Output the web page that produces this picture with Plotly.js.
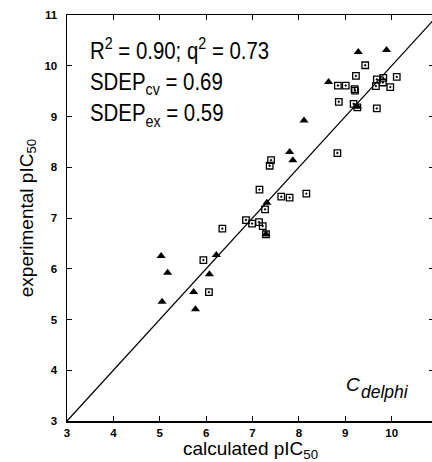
<!DOCTYPE html>
<html>
<head>
<meta charset="utf-8">
<script src="https://cdn.plot.ly/plotly-3.0.1.min.js"></script>
<style>
html,body{margin:0;padding:0;background:#fff;overflow:hidden;width:432px;height:462px;}
#chart{width:440px;height:462px;}
</style>
</head>
<body>
<div id="chart"></div>
<script>
// Filled triangles
const triX = [9.28, 9.89, 8.64, 8.11, 7.80, 7.87, 7.31, 6.22, 5.03, 5.17, 6.07, 5.73, 5.05, 5.77, 9.26, 7.29];
const triY = [10.27, 10.31, 9.68, 8.92, 8.30, 8.14, 7.30, 6.27, 6.25, 5.92, 5.89, 5.54, 5.35, 5.20, 9.19, 6.68];
// Open squares (with dot)
const sqX = [9.43, 9.23, 8.84, 9.01, 9.20, 9.21, 9.68, 9.82, 9.66, 9.81, 9.97, 10.11, 8.86, 9.18, 9.26, 9.68, 8.83, 7.40, 7.37, 7.15, 7.62, 7.80, 8.16, 7.27, 6.86, 6.99, 7.14, 7.22, 6.35, 5.94, 6.06, 7.29];
const sqY = [10.01, 9.80, 9.61, 9.61, 9.54, 9.51, 9.73, 9.76, 9.60, 9.67, 9.58, 9.78, 9.29, 9.25, 9.18, 9.16, 8.28, 8.14, 8.03, 7.56, 7.42, 7.40, 7.48, 7.17, 6.96, 6.89, 6.92, 6.84, 6.79, 6.17, 5.54, 6.68];
// Identity line
const lineX = [3, 11];
const lineY = [3, 11];
const tickVals = [3, 4, 5, 6, 7, 8, 9, 10, 11];
const statsText = "R<sup>2</sup> = 0.90; q<sup>2</sup> = 0.73<br>SDEP<sub>cv</sub> = 0.69<br>SDEP<sub>ex</sub> = 0.59";

const sans = "Liberation Sans, Arial, Helvetica, sans-serif";

const traces = [
  {x: lineX, y: lineY, mode: 'lines', line: {color: '#000', width: 1.3}, hoverinfo: 'skip'},
  {x: sqX, y: sqY, mode: 'markers', marker: {symbol: 'square-open-dot', size: 6.5, color: '#000', line: {color: '#000', width: 1.3}}},
  {x: triX, y: triY, mode: 'markers', marker: {symbol: 'triangle-up', size: 8, color: '#000', line: {width: 0}}}
];

const axisCommon = {
  showgrid: false, zeroline: false,
  showline: true, linecolor: '#000', linewidth: 1.5, mirror: 'ticks',
  ticks: 'inside', ticklen: 5, tickwidth: 1, tickcolor: '#000',
  tickvals: tickVals,
  tickfont: {family: sans, size: 11.5, color: '#000', weight: 'bold'}
};

const layout = {
  width: 440, height: 462,
  margin: {l: 66.6, r: 6, t: 15, b: 41.3},
  paper_bgcolor: '#fff', plot_bgcolor: '#fff',
  showlegend: false,
  xaxis: Object.assign({}, axisCommon, {
    range: [3, 10.913],
    ticklabelstandoff: 1,
    title: {text: 'calculated pIC<sub>50</sub>', font: {family: sans, size: 19, color: '#000'}, standoff: 3}
  }),
  yaxis: Object.assign({}, axisCommon, {
    range: [3, 11],
    ticklabelstandoff: 6,
    title: {text: 'experimental pIC<sub>50</sub>', font: {family: sans, size: 19, color: '#000'}, standoff: 6}
  }),
  annotations: [
    {xref: 'paper', yref: 'paper', x: 0.056, y: 0.958, xanchor: 'left', yanchor: 'top', align: 'left',
     text: statsText, showarrow: false, font: {family: sans, size: 24, color: '#000'}},
    {xref: 'paper', yref: 'paper', x: 0.754, y: 0.06, xanchor: 'left', yanchor: 'bottom',
     text: '<i>C</i>', showarrow: false, font: {family: sans, size: 19, color: '#000'}},
    {xref: 'paper', yref: 'paper', x: 0.797, y: 0.043, xanchor: 'left', yanchor: 'bottom',
     text: '<i>delphi</i>', showarrow: false, font: {family: sans, size: 17.5, color: '#000'}}
  ]
};

Plotly.newPlot('chart', traces, layout, {displayModeBar: false, staticPlot: true}).then(function (gd) {
  // condense the statistics text horizontally (the original uses a narrow face)
  const t = gd.querySelector('.annotation text.annotation-text');
  if (t) {
    const bb = t.getBBox();
    const bx = bb.x;
    t.setAttribute('transform', 'translate(' + bx + ',0) scale(0.85,1) translate(' + (-bx) + ',0)');
  }
});
</script>
</body>
</html>
